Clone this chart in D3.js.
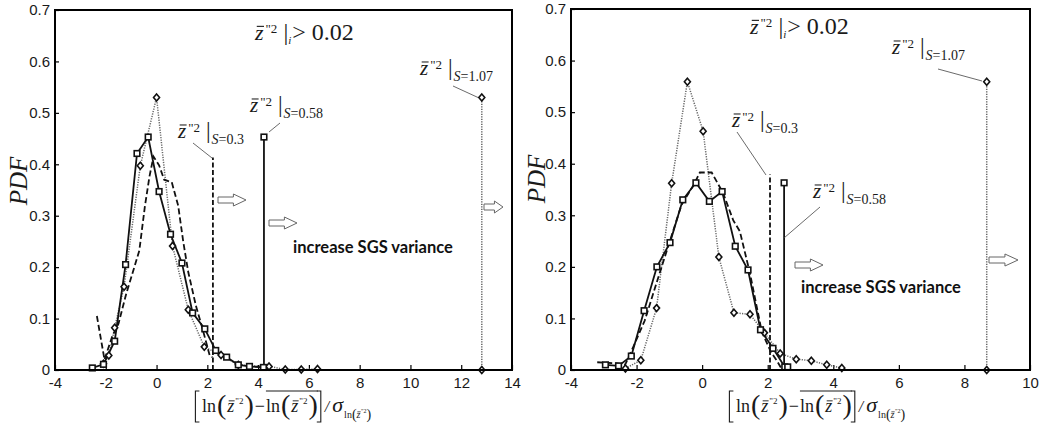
<!DOCTYPE html>
<html><head><meta charset="utf-8">
<script src="https://cdn.jsdelivr.net/npm/d3@7"></script>
<style>body{margin:0;background:#fff}svg{display:block}</style>
</head><body>
<svg id="c" width="1055" height="434"></svg>
<script>
// ---------- data ----------
const yTicks = [0, 0.1, 0.2, 0.3, 0.4, 0.5, 0.6, 0.7];
const yTickLabels = ['0', '0.1', '0.2', '0.3', '0.4', '0.5', '0.6', '0.7'];
const xTicksLeft = [-4, -2, 0, 2, 4, 6, 8, 10, 12, 14];
const xTicksRight = [-4, -2, 0, 2, 4, 6, 8, 10];

// left panel: S=0.58 (solid, squares)
const leftSolid = [[-2.53,0.004],[-2.09,0.011],[-1.65,0.056],[-1.22,0.205],[-0.77,0.421],[-0.33,0.453],[0.1,0.347],[0.55,0.264],[1.0,0.208],[1.42,0.111],[1.9,0.08],[2.33,0.038],[2.76,0.025],[3.22,0.01],[3.66,0.007],[4.21,0.005]];
// left panel: S=0.3 (dashed)
const leftDashed = [[-2.35,0.105],[-2.05,0.02],[-1.75,0.065],[-1.5,0.09],[-1.19,0.149],[-0.93,0.191],[-0.68,0.232],[-0.46,0.318],[-0.28,0.376],[-0.12,0.415],[0.1,0.398],[0.3,0.37],[0.6,0.365],[0.85,0.32],[1.05,0.25],[1.25,0.19],[1.55,0.125],[1.8,0.082],[2.1,0.027],[2.2,0.025]];
// left panel: S=1.07 (dotted, diamonds)
const leftDotted = [[-2.09,0.012],[-1.88,0.028],[-1.65,0.082],[-1.28,0.162],[-0.64,0.397],[0,0.53],[0.63,0.241],[1.25,0.117],[1.88,0.045],[2.54,0.029],[3.22,0.01],[4.43,0.007],[5.07,0.001],[5.7,0.001],[6.34,0.002]];
const leftMax = { solid: [4.23, 0.453], dashed: [2.22, 0.413], dotted: [12.81, 0.53] };

// right panel
const rightSolid = [[-2.95,0.01],[-2.55,0.008],[-2.16,0.027],[-1.77,0.115],[-1.38,0.2],[-0.98,0.247],[-0.59,0.33],[-0.19,0.363],[0.22,0.327],[0.61,0.346],[1.01,0.24],[1.4,0.194],[1.78,0.078],[2.16,0.042],[2.52,0.006],[2.61,0.006]];
const rightDashed = [[-3.2,0.015],[-2.6,0.013],[-2.35,0.01],[-2.1,0.045],[-1.75,0.096],[-1.4,0.167],[-1.05,0.237],[-0.63,0.32],[-0.25,0.36],[-0.07,0.383],[0.29,0.383],[0.64,0.343],[0.95,0.29],[1.15,0.269],[1.45,0.19],[1.82,0.074],[2.1,0.035],[2.27,0.019],[2.4,0.005]];
const rightDotted = [[-2.34,0.003],[-1.87,0.019],[-1.39,0.12],[-0.93,0.362],[-0.45,0.559],[0.03,0.463],[0.51,0.219],[0.97,0.111],[1.46,0.108],[1.9,0.072],[2.38,0.032],[2.87,0.021],[3.33,0.018],[3.8,0.01],[4.26,0.004]];
const rightMax = { solid: [2.5, 0.363], dashed: [2.07, 0.379], dotted: [8.68, 0.559] };

// ---------- drawing ----------
const svg = d3.select('#c');
svg.append('rect').attr('width', 1055).attr('height', 434).attr('fill', '#fff');
const SERIF = "'Liberation Serif','Times New Roman',serif";
const SANS = "'Liberation Sans',Arial,sans-serif";
const TXT = '#1a1a1a';

function run(g, x, y, parts) {
  let cx = x;
  for (const p of parts) {
    const px = cx + (p.dx || 0);
    const t = g.append('text').attr('x', px).attr('y', y + (p.dy || 0))
      .attr('font-family', SERIF).attr('font-size', p.s)
      .attr('font-style', p.i ? 'italic' : 'normal').attr('fill', TXT).text(p.t);
    const w = t.node().getComputedTextLength();
    if (p.bar) {
      const by = y + (p.dy || 0) - p.s * 0.62;
      g.append('line').attr('x1', px + p.s * 0.08).attr('x2', px + w + p.s * 0.02)
        .attr('y1', by).attr('y2', by).attr('stroke', TXT).attr('stroke-width', Math.max(0.7, p.s / 20));
    }
    cx = px + w;
  }
  return cx;
}

function zLabel(g, x, y, sub) {
  run(g, x, y, [
    { t: 'z', s: 21, i: true, bar: true },
    { t: '"2', s: 13, dy: -6, dx: 2 },
    { t: '|', s: 23, dx: 6, dy: 0 },
    { t: 'S', s: 14, i: true, dy: 6, dx: 1 },
    { t: '=' + sub, s: 14, dy: 6 }
  ]);
}
function title(g, x, y) {
  run(g, x, y, [
    { t: 'z', s: 22, i: true, bar: true },
    { t: '"2', s: 13, dy: -7, dx: 2 },
    { t: '|', s: 24, dx: 6 },
    { t: 'i', s: 11, i: true, dy: 4 },
    { t: '> 0.02', s: 24, dx: 1 }
  ]);
}
function bracket(g, x, top, bot, dir) {
  g.append('path').attr('d', `M${x + 4 * dir},${top}H${x}V${bot}H${x + 4 * dir}`)
    .attr('fill', 'none').attr('stroke', TXT).attr('stroke-width', 1.1);
}
function xLabel(g, cx, by) {
  const grp = g.append('g');
  bracket(grp, 0.5, -21, 10, 1);
  let x = 6;
  const inner = (x0) => run(grp, x0, 0, [
    { t: 'ln', s: 18, dx: 1 }, { t: '(', s: 28, dx: 1, dy: 1.5 },
    { t: 'z', s: 18, i: true, bar: true, dx: 1 }, { t: '"2', s: 9, dy: -8, dx: 1 },
    { t: ')', s: 28, dx: 1, dy: 1.5 }]);
  x = inner(x);
  x = run(grp, x, 0, [{ t: '\u2212', s: 18, dx: 1 }]);
  const o0 = x + 1;
  x = inner(x);
  grp.append('line').attr('x1', o0).attr('x2', x).attr('y1', -21).attr('y2', -21).attr('stroke', TXT).attr('stroke-width', 1);
  bracket(grp, x + 3, -21, 10, -1);
  x += 5;
  x = run(grp, x, 0, [
    { t: '/', s: 16, i: true, dx: 2 }, { t: '\u03c3', s: 22, i: true, dx: 3 },
    { t: 'ln', s: 10, dy: 6, dx: 1 }, { t: '(', s: 14, dy: 7 },
    { t: 'z', s: 10, i: true, bar: true, dy: 6 }, { t: '"2', s: 6, dy: 1, dx: 0.5 },
    { t: ')', s: 14, dy: 7 }]);
  grp.attr('transform', `translate(${cx - x / 2},${by})`);
}
function arrow(g, x, y, w) {
  const bl = w * 0.55;
  g.append('path')
    .attr('d', `M${x},${y - 3}H${x + bl}V${y - 6}L${x + w},${y}L${x + bl},${y + 6}V${y + 3}H${x}Z`)
    .attr('fill', '#fff').attr('stroke', '#666').attr('stroke-width', 1);
}
function leader(g, x1, y1, x2, y2) {
  g.append('line').attr('x1', x1).attr('y1', y1).attr('x2', x2).attr('y2', y2)
    .attr('stroke', '#444').attr('stroke-width', 0.8);
}

function panel(cfg) {
  const g = svg.append('g');
  const x = d3.scaleLinear().domain([-4, cfg.xmax]).range([cfg.x0, cfg.x1]);
  const y = d3.scaleLinear().domain([0, 0.7]).range([cfg.y1, cfg.y0]);

  // axes (inward ticks)
  const xa = g.append('g').attr('transform', `translate(0,${cfg.y1})`)
    .call(d3.axisBottom(x).tickValues(cfg.xticks).tickSize(-5).tickPadding(7).tickFormat(d => String(d)));
  const ya = g.append('g').attr('transform', `translate(${cfg.x0},0)`)
    .call(d3.axisLeft(y).tickValues(yTicks).tickSize(-4).tickPadding(5).tickFormat((d, i) => yTickLabels[i]));
  [xa, ya].forEach(a => {
    a.select('.domain').remove();
    a.selectAll('line').attr('stroke', '#000').attr('stroke-width', 1.2);
    a.selectAll('text').attr('font-family', SANS).attr('font-size', 15).attr('fill', TXT);
  });

  const line = d3.line().x(d => x(d[0])).y(d => y(d[1]));
  const clip = g.append('g');
  // dotted S=1.07
  clip.append('path').attr('d', line(cfg.dotted)).attr('fill', 'none')
    .attr('stroke', '#666').attr('stroke-width', 1.5).attr('stroke-dasharray', '1.2,1.3');
  clip.append('path').attr('d', line([[cfg.max.dotted[0], 0], cfg.max.dotted])).attr('fill', 'none')
    .attr('stroke', '#666').attr('stroke-width', 1.5).attr('stroke-dasharray', '1.2,1.3');
  // dashed S=0.3
  clip.append('path').attr('d', line(cfg.dashed)).attr('fill', 'none')
    .attr('stroke', '#111').attr('stroke-width', 1.8).attr('stroke-dasharray', '6,3');
  clip.append('path').attr('d', line([[cfg.max.dashed[0], 0], cfg.max.dashed])).attr('fill', 'none')
    .attr('stroke', '#111').attr('stroke-width', 1.8).attr('stroke-dasharray', '5,2.5');
  // solid S=0.58
  clip.append('path').attr('d', line(cfg.solid)).attr('fill', 'none')
    .attr('stroke', '#111').attr('stroke-width', 1.8);
  clip.append('path').attr('d', line([[cfg.max.solid[0], 0], cfg.max.solid])).attr('fill', 'none')
    .attr('stroke', '#111').attr('stroke-width', 1.8);

  // markers
  const dia = cfg.dotted.concat([[cfg.max.dotted[0], 0], cfg.max.dotted]);
  clip.selectAll('.dia').data(dia).enter().append('path')
    .attr('d', d => { const cx = x(d[0]), cy = y(d[1]); return `M${cx},${cy - 3.5}L${cx + 3},${cy}L${cx},${cy + 3.5}L${cx - 3},${cy}Z`; })
    .attr('fill', '#fff').attr('stroke', '#111').attr('stroke-width', 1.6);
  const sq = cfg.solid.concat([cfg.max.solid]);
  clip.selectAll('.sq').data(sq).enter().append('rect')
    .attr('x', d => x(d[0]) - 2.8).attr('y', d => y(d[1]) - 2.8).attr('width', 5.6).attr('height', 5.6)
    .attr('fill', '#fff').attr('stroke', '#111').attr('stroke-width', 1.6);

  // frame
  g.append('rect').attr('x', cfg.x0).attr('y', cfg.y0).attr('width', cfg.x1 - cfg.x0).attr('height', cfg.y1 - cfg.y0)
    .attr('fill', 'none').attr('stroke', '#000').attr('stroke-width', 2);

  // y label
  g.append('text').attr('transform', `translate(${cfg.pdfX},${cfg.pdfY}) rotate(-90)`)
    .attr('text-anchor', 'middle').attr('font-family', SERIF).attr('font-style', 'italic')
    .attr('font-size', 25).attr('fill', TXT).text('PDF');
  xLabel(g, cfg.xlabX, 412);
  return { g, x, y };
}

// left panel
const L = panel({ x0: 55, x1: 512, y0: 10, y1: 370, xmax: 14, xticks: xTicksLeft,
  solid: leftSolid, dashed: leftDashed, dotted: leftDotted, max: leftMax, pdfX: 27, pdfY: 181, xlabX: 283 });
title(L.g, 255, 40);
zLabel(L.g, 420, 75, '1.07');
zLabel(L.g, 250, 112, '0.58');
zLabel(L.g, 178, 138, '0.3');
leader(L.g, 193, 143, 212, 158);
leader(L.g, 269, 132, 280, 123);
leader(L.g, 453, 86, 478, 97.5);
arrow(L.g, 218, 200, 28);
arrow(L.g, 269, 223, 28);
arrow(L.g, 484, 207, 19);
L.g.append('text').attr('x', 293).attr('y', 253).attr('font-family', "Lato,'Open Sans',sans-serif")
  .attr('font-weight', 'bold').attr('font-size', 16.5).attr('fill', '#111').text('increase SGS variance');

// right panel
const R = panel({ x0: 571, x1: 1030, y0: 9, y1: 370, xmax: 10, xticks: xTicksRight,
  solid: rightSolid, dashed: rightDashed, dotted: rightDotted, max: rightMax, pdfX: 545, pdfY: 179, xlabX: 817 });
title(R.g, 750, 34);
zLabel(R.g, 892, 54, '1.07');
zLabel(R.g, 732, 127, '0.3');
zLabel(R.g, 813, 198, '0.58');
leader(R.g, 938, 69, 982, 81);
leader(R.g, 737, 132, 766, 175);
leader(R.g, 820, 207, 784, 238);
arrow(R.g, 795, 265, 28);
arrow(R.g, 989, 260, 29);
R.g.append('text').attr('x', 801).attr('y', 293).attr('font-family', "Lato,'Open Sans',sans-serif")
  .attr('font-weight', 'bold').attr('font-size', 16.5).attr('fill', '#111').text('increase SGS variance');
</script>
</body></html>
